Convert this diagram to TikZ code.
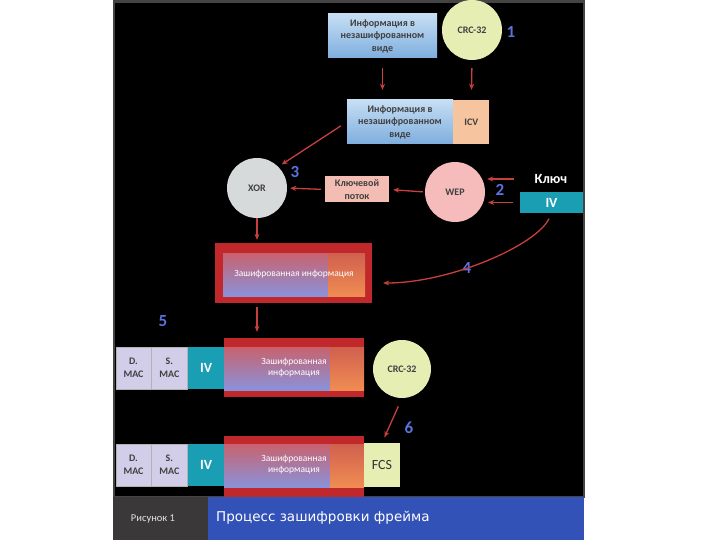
\documentclass[tikz,border=0pt]{standalone}
\usepackage{fontspec}
\setmainfont{Carlito}
\newfontfamily\capfont{DejaVu Sans}
\usetikzlibrary{arrows.meta,positioning,calc}
\definecolor{arrred}{HTML}{C8403C}
\definecolor{infotop}{HTML}{C6DEF4}
\definecolor{infobot}{HTML}{7EAEDE}
\definecolor{icvpeach}{HTML}{F7C4A0}
\definecolor{crcgreen}{HTML}{E6EEB4}
\definecolor{xorgray}{HTML}{D6DADA}
\definecolor{weppink}{HTML}{F6BCBC}
\definecolor{kspink}{HTML}{F4BDB4}
\definecolor{ivteal}{HTML}{1A9EB4}
\definecolor{maclav}{HTML}{D2CEEA}
\definecolor{frred}{HTML}{C0282C}
\definecolor{enctop}{HTML}{C8626E}
\definecolor{encbot}{HTML}{8A92DA}
\definecolor{orgtop}{HTML}{D0604E}
\definecolor{orgbot}{HTML}{F08C52}
\definecolor{numblue}{HTML}{5A72DC}
\definecolor{capgray}{HTML}{3A3838}
\definecolor{capblue}{HTML}{3352B8}
\definecolor{panelgray}{HTML}{444444}

\begin{document}
\begin{tikzpicture}[x=1pt,y=-1pt,
  boxtxt/.style={font=\bfseries\fontsize{10}{12.5}\selectfont, text=black!75, align=center, inner sep=0pt},
  infobox/.style={boxtxt, top color=infotop, bottom color=infobot, minimum height=44pt},
  crcball/.style={circle, boxtxt, fill=crcgreen, minimum size=60pt},
  num/.style={font=\bfseries\fontsize{17}{17}\selectfont, text=numblue, inner sep=0pt},
  ivbox/.style={fill=ivteal, text=white, font=\bfseries\fontsize{14}{14}\selectfont, inner sep=0pt},
  macbox/.style={boxtxt, fill=maclav, draw=black!30, line width=0.3pt, minimum width=35pt, minimum height=42pt},
  frame/.style={fill=frred, inner sep=0pt},
  enctxt/.style={font=\fontsize{9.5}{11}\selectfont, text=white, align=center, inner sep=0pt},
  flow/.style={arrred, line width=1.3pt, -{Stealth[length=6pt,width=5pt]}},
]
\useasboundingbox (0,0) rectangle (720,540);
% black panel with grey rim
\draw[panelgray, line width=2.5pt, fill=black] (114,1.5) rectangle (584,497);

% step 1: plain data + CRC-32 -> ICV
\node[infobox, minimum width=109pt] (info1) at (382.5,36) {Информация в\\незашифрованном\\виде};
\node[crcball] (crc1) at (472,30) {CRC-32};
\node[num] (n1) at (511,32) {1};
\node[infobox, minimum width=106pt] (info2) at (400,122) {Информация в\\незашифрованном\\виде};
\node[boxtxt, fill=icvpeach, minimum width=36pt, minimum height=44pt, right=0pt of info2] (icv) {ICV};

% step 2: key + IV -> WEP -> key stream
\node[circle, boxtxt, fill=weppink, minimum size=60pt] (wep) at (455,192) {WEP};
\node[num] (n2) at (500,190) {2};
\node[font=\bfseries\fontsize{14}{14}\selectfont, text=white, inner sep=0pt] (keylbl) at (551,179) {Ключ};
\node[ivbox, minimum width=63pt, minimum height=21pt] (ivkey) at (551.5,202.5) {IV};
\node[boxtxt, fill=kspink, minimum width=64pt, minimum height=26pt] (ks) at (357,189.5) {Ключевой\\поток};

% step 3: XOR
\node[circle, boxtxt, fill=xorgray, minimum size=60pt] (xor) at (257,188) {XOR};
\node[num] (n3) at (295,172) {3};

% encrypted block
\node[frame, minimum width=157pt, minimum height=60pt] (encf) at (293.5,273) {};
\fill[top color=enctop, bottom color=encbot] (223,253) rectangle (328,296);
\fill[top color=orgtop, bottom color=orgbot] (328,253) rectangle (365,296);
\node[enctxt] (enc) at (294,274) {Зашифрованная информация};
\node[num] (n4) at (467,268) {4};
\coordinate (in4) at ($(encf.east)+(11,10)$);

% step 5: frame with MAC, IV
\node[num] (n5) at (163,321) {5};
\foreach \r/\yc/\fy/\fh in {1/368/367.5/59, 2/465/468/64} {
  \node[macbox] (dmac\r) at (133.5,\yc) {D.\\MAC};
  \node[macbox, minimum width=36pt, right=0pt of dmac\r] (smac\r) {S.\\MAC};
  \node[ivbox, minimum width=37pt, minimum height=42pt, right=0pt of smac\r] (iv\r) {IV};
  \node[frame, minimum width=140pt, minimum height=\fh pt] (encf\r) at (294,\fy) {};
  \fill[top color=enctop, bottom color=encbot] (224,\yc-21) rectangle (330,\yc+22);
  \fill[top color=orgtop, bottom color=orgbot] (330,\yc-21) rectangle (364,\yc+22);
  \node[enctxt] (enc\r) at (294,\yc) {Зашифрованная\\информация};
}
\node[crcball, minimum size=58pt] (crc2) at (402,369) {CRC-32};
\node[num] (n6) at (409,428) {6};
\node[font=\fontsize{14}{14}\selectfont, text=black!80, fill=crcgreen, minimum width=36pt, minimum height=44pt, inner sep=0pt] (fcs) at (382,465) {FCS};

% arrows
\draw[flow, shorten <=10pt, shorten >=10pt] (info1.south) -- (info1.south |- info2.north);
\draw[flow, shorten <=8pt, shorten >=10pt] (crc1.south) -- (icv.north);
\draw[flow, shorten <=7pt, shorten >=4pt] (info2.west) -- (xor.north east);
\draw[flow, shorten <=20pt, shorten >=2pt] (keylbl.west) -- (keylbl.west -| wep.east);
\draw[flow, shorten <=7pt, shorten >=3pt] (ivkey.west) -- (ivkey.west -| wep.east);
\draw[flow, shorten <=2pt, shorten >=4pt] (wep.west) -- (ks.east);
\draw[flow, shorten <=4pt, shorten >=3pt] (ks.west) -- (xor.east);
\draw[flow, shorten >=3pt] (xor.south) -- (xor.south |- encf.north);
\draw[flow, shorten <=4pt, shorten >=6pt] (encf.south -| xor.south) -- (xor.south |- encf1.north);
\draw[flow, shorten <=6pt] (ivkey.south) .. controls +(-15,32) and +(67,0) .. (in4);
\draw[flow, shorten <=9pt, shorten >=6pt] (crc2.south) -- (fcs.north);

% caption bar
\fill[capgray] (113,497) rectangle (208,540);
\fill[capblue] (208,497) rectangle (584,540);
\node[font=\fontsize{10.5}{10.5}\selectfont, text=white!90!black, inner sep=0pt] (figno) at (153,519) {Рисунок 1};
\node[font=\capfont\fontsize{13.5}{13.5}\selectfont, text=white, anchor=west, inner sep=0pt] (figtitle) at (216,518) {Процесс зашифровки фрейма};
\end{tikzpicture}
\end{document}
